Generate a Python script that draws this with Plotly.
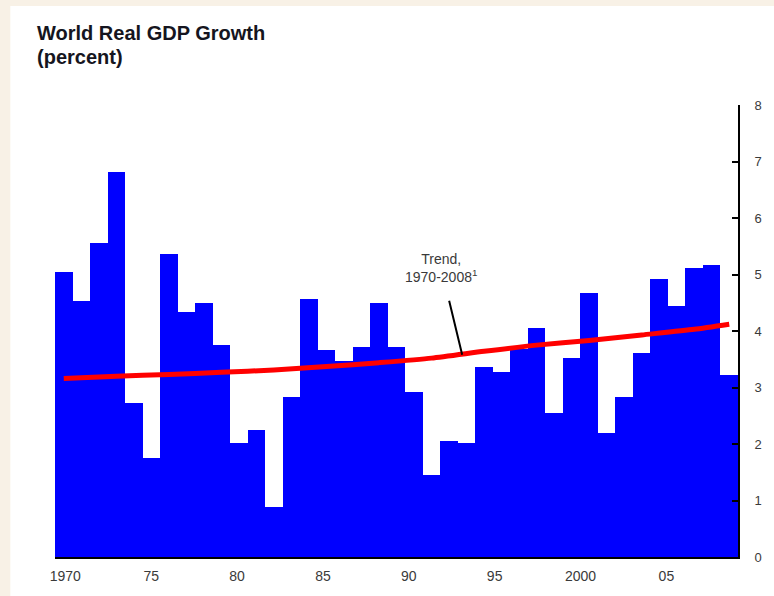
import plotly.graph_objects as go

# ---- data ----
years = list(range(1970, 2009))
growth = [5.05, 4.53, 5.55, 6.82, 2.73, 1.76, 5.36, 4.34, 4.49, 3.75,
          2.01, 2.25, 0.88, 2.83, 4.57, 3.66, 3.47, 3.71, 4.49, 3.71,
          2.92, 1.46, 2.05, 2.01, 3.37, 3.27, 3.68, 4.05, 2.54, 3.52,
          4.68, 2.20, 2.84, 3.61, 4.92, 4.44, 5.12, 5.16, 3.22]

trend_years = [1970, 1973, 1976, 1979, 1982, 1985, 1988, 1991, 1994, 1997, 2000, 2003, 2006, 2008]
trend_values = [3.16, 3.20, 3.23, 3.27, 3.31, 3.37, 3.44, 3.52, 3.64, 3.75, 3.83, 3.93, 4.03, 4.12]

tick_years = [1970, 1975, 1980, 1985, 1990, 1995, 2000, 2005]
tick_labels = ["1970", "75", "80", "85", "90", "95", "2000", "05"]

y_ticks = list(range(0, 9))

title_line1 = "World Real GDP Growth"
title_line2 = "(percent)"
trend_label = "Trend,<br>1970-2008<sup>1</sup>"
arrow_point = (1992.75, 3.58)

# ---- styling ----
FONT = "Liberation Sans, Arial, sans-serif"
BEIGE = "#f8f1e6"
TXT = "#3a3a3a"

fig = go.Figure()
fig.add_trace(go.Bar(x=years, y=growth, width=1,
                     marker=dict(color="#0000ff", line=dict(width=0)),
                     hoverinfo="x+y"))
fig.add_trace(go.Scatter(x=trend_years, y=trend_values, mode="lines",
                         line=dict(color="#ff0000", width=5, shape="spline", smoothing=0.6),
                         hoverinfo="skip"))
# carrier trace so the label axis (x2) is drawn; markers are fully transparent
fig.add_trace(go.Scatter(x=tick_years, y=[0] * len(tick_years), xaxis="x2", yaxis="y",
                         mode="markers", marker=dict(opacity=0, size=1),
                         hoverinfo="skip", showlegend=False))

fig.update_layout(
    width=774, height=596,
    margin=dict(l=55, r=31, t=105, b=35),
    paper_bgcolor=BEIGE, plot_bgcolor="white",
    bargap=0, showlegend=False,
    font=dict(family=FONT, color=TXT),
    xaxis=dict(range=[1969.5, 2008.5], showticklabels=False, ticks="",
               showline=True, linecolor="black", linewidth=2,
               showgrid=False, zeroline=False),
    xaxis2=dict(overlaying="x", anchor="y", side="bottom",
                range=[1969.4, 2009.17], tickvals=tick_years, ticktext=tick_labels,
                ticks="", showline=False, showgrid=False, zeroline=False,
                tickfont=dict(size=14, color=TXT, family=FONT),
                ticklabelstandoff=9),
    yaxis=dict(side="right", range=[0, 8], tickvals=y_ticks,
               ticks="inside", ticklen=6, tickwidth=2, tickcolor="black",
               showline=True, linecolor="black", linewidth=2,
               showgrid=False, zeroline=False,
               tickfont=dict(size=13, color=TXT, family=FONT),
               ticklabelstandoff=12),
    shapes=[dict(type="rect", xref="paper", yref="paper",
                 x0=-0.0654, x1=1.06, y0=-0.12, y1=1.219,
                 fillcolor="white", line=dict(width=0), layer="below")],
    annotations=[
        dict(text="<b>" + title_line1 + "</b>", xref="paper", yref="paper",
             x=-0.029, y=1.16, xanchor="left", yanchor="middle", showarrow=False,
             font=dict(size=20, color="#151520", family=FONT)),
        dict(text="<b>" + title_line2 + "</b>", xref="paper", yref="paper",
             x=-0.029, y=1.107, xanchor="left", yanchor="middle", showarrow=False,
             font=dict(size=20, color="#151520", family=FONT)),
        dict(text=trend_label, xref="x", yref="y",
             x=arrow_point[0], y=arrow_point[1], ax=-21, ay=-87,
             showarrow=True, arrowhead=0, arrowwidth=2, arrowcolor="black",
             startstandoff=15,
             font=dict(size=14, color=TXT, family=FONT), align="center"),
    ],
)

fig.write_html("out.html",
               config={"displayModeBar": False},
               post_script="document.body.style.margin='0';document.body.style.overflow='hidden';")
